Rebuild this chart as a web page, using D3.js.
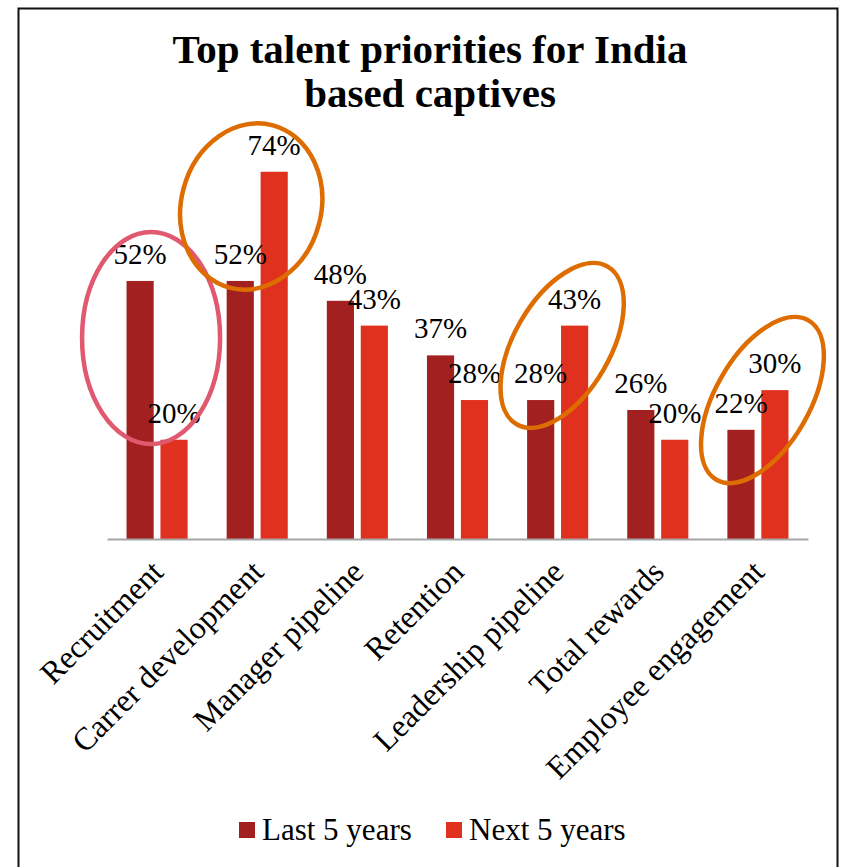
<!DOCTYPE html>
<html>
<head>
<meta charset="utf-8">
<script src="https://cdn.jsdelivr.net/npm/d3@7"></script>
<style>
  body { margin: 0; background: #fff; }
  svg { display: block; font-family: "Liberation Serif", "Times New Roman", serif; }
</style>
</head>
<body>
<svg width="841" height="867"></svg>
<script>
// data
var categories = ["Recruitment", "Carrer development", "Manager pipeline", "Retention",
                  "Leadership pipeline", "Total rewards", "Employee engagement"];
var seriesNames = ["Last 5 years", "Next 5 years"];
var last5 = [52, 52, 48, 37, 28, 26, 22];
var next5 = [20, 74, 43, 28, 43, 20, 30];
var titleLines = ["Top talent priorities for India", "based captives"];

// highlight ellipses drawn over the chart (category, centre value)
var highlights = [
  {cat: "Recruitment",         value: 40.5, dx: -6,  rx: 69, ry: 106, rot: 0,  color: "#e0596f"},
  {cat: "Carrer development",  value: 67,   dx: -6,  rx: 70, ry: 84,  rot: 15, color: "#dd6d00"},
  {cat: "Leadership pipeline", value: 39,   dx: 4.5, rx: 48, ry: 91,  rot: 30, color: "#dd6d00"},
  {cat: "Employee engagement", value: 28,   dx: 4.5, rx: 47, ry: 92,  rot: 30, color: "#dd6d00"}
];

var colors = ["#a32020", "#e0301e"];

var svg = d3.select("svg");

// frame
svg.append("rect")
    .attr("x", 18.5).attr("y", 8.5)
    .attr("width", 819).attr("height", 880)
    .attr("fill", "none")
    .attr("stroke", "#111")
    .attr("stroke-width", 2);

// title, one text per line
svg.append("g")
    .attr("text-anchor", "middle")
    .attr("font-weight", "bold")
    .attr("font-size", 41)
    .selectAll("text")
    .data(titleLines)
    .enter().append("text")
    .attr("x", 430)
    .attr("y", function(d, i){ return 63 + i * 44; })
    .text(function(d){ return d; });

var x = d3.scaleBand()
    .domain(categories)
    .range([107, 808])
    .paddingInner(0.39)
    .paddingOuter(0.195);

var x1 = d3.scaleBand()
    .domain(seriesNames)
    .range([0, x.bandwidth()])
    .paddingInner(0.2);

var y = d3.scaleLinear()
    .domain([0, 80])
    .range([539, 142]);

var rows = categories.map(function(c, i){
    return {cat: c, values: [last5[i], next5[i]]};
});

var groups = svg.append("g").selectAll("g")
    .data(rows)
    .enter().append("g")
    .attr("transform", function(d){ return "translate(" + x(d.cat) + ",0)"; });

groups.selectAll("rect")
    .data(function(d){ return d.values.map(function(v, j){ return {s: seriesNames[j], v: v, j: j}; }); })
    .enter().append("rect")
    .attr("x", function(d){ return x1(d.s); })
    .attr("y", function(d){ return y(d.v); })
    .attr("width", x1.bandwidth())
    .attr("height", function(d){ return y(0) - y(d.v); })
    .attr("fill", function(d){ return colors[d.j]; });

// value labels
groups.selectAll("text")
    .data(function(d){ return d.values.map(function(v, j){ return {s: seriesNames[j], v: v}; }); })
    .enter().append("text")
    .attr("x", function(d){ return x1(d.s) + x1.bandwidth() / 2; })
    .attr("y", function(d){ return y(d.v) - 17; })
    .attr("text-anchor", "middle")
    .attr("font-size", 29)
    .attr("fill", "#000")
    .text(function(d){ return d.v + "%"; });

// x axis
var xAxis = d3.axisBottom(x).tickSize(0).tickPadding(0);
var ax = svg.append("g")
    .attr("transform", "translate(0," + y(0) + ")")
    .call(xAxis);
ax.select(".domain")
    .attr("stroke", "#a6a6a6")
    .attr("stroke-width", 2);
ax.selectAll(".tick text")
    .attr("font-family", "Liberation Serif, serif")
    .attr("font-size", 32)
    .attr("fill", "#000")
    .attr("text-anchor", "end")
    .attr("dy", 0)
    .attr("y", 0)
    .attr("transform", "translate(8,35) rotate(-45)");

// highlight ellipses
svg.append("g").selectAll("ellipse")
    .data(highlights)
    .enter().append("ellipse")
    .attr("transform", function(d){
        var cx = x(d.cat) + x.bandwidth() / 2 + d.dx;
        return "translate(" + cx + "," + y(d.value) + ") rotate(" + d.rot + ")";
    })
    .attr("rx", function(d){ return d.rx; })
    .attr("ry", function(d){ return d.ry; })
    .attr("fill", "none")
    .attr("stroke", function(d){ return d.color; })
    .attr("stroke-width", 4.5);

// legend
var legendX = [239, 446];
var legend = svg.append("g").selectAll("g")
    .data(seriesNames)
    .enter().append("g")
    .attr("transform", function(d, i){ return "translate(" + legendX[i] + ",822)"; });

legend.append("rect")
    .attr("width", 16).attr("height", 16)
    .attr("fill", function(d, i){ return colors[i]; });

legend.append("text")
    .attr("x", 23)
    .attr("y", 18)
    .attr("font-size", 31)
    .text(function(d){ return d; });
</script>
</body>
</html>
